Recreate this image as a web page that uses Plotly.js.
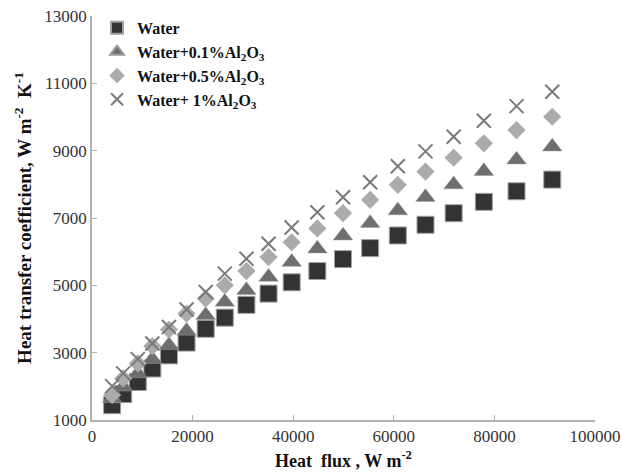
<!DOCTYPE html>
<html>
<head>
<meta charset="utf-8">
<script src="https://cdn.plot.ly/plotly-3.0.1.min.js"></script>
<style>html,body{margin:0;padding:0;background:#fff;}#chart{width:622px;height:474px;}</style>
</head>
<body>
<div id="chart"></div>
<script>
const heatFlux = [4000, 6200, 9100, 12000, 15300, 18800, 22600, 26400, 30700, 35100, 39700, 44800, 49900, 55300, 60800, 66300, 71900, 77900, 84400, 91500];
const water = [1440, 1770, 2130, 2530, 2920, 3300, 3710, 4040, 4420, 4754, 5090, 5424, 5779, 6105, 6481, 6799, 7142, 7480, 7794, 8141];
const water01 = [1643, 1987, 2384, 2807, 3222, 3646, 4111, 4505, 4852, 5246, 5690, 6088, 6473, 6846, 7222, 7617, 7993, 8387, 8733, 9119];
const water05 = [1741, 2235, 2680, 3193, 3687, 4161, 4606, 5000, 5424, 5839, 6280, 6689, 7142, 7540, 7984, 8378, 8793, 9218, 9613, 10008];
const water1 = [2007, 2384, 2807, 3273, 3764, 4280, 4800, 5347, 5791, 6236, 6720, 7172, 7617, 8061, 8535, 8979, 9415, 9889, 10324, 10748];
const seriesNames = ["Water", "Water+0.1%Al<sub>2</sub>O<sub>3</sub>", "Water+0.5%Al<sub>2</sub>O<sub>3</sub>", "Water+ 1%Al<sub>2</sub>O<sub>3</sub>"];

const serif = "Liberation Serif";
const traces = [
  {x: heatFlux, y: water, name: seriesNames[0], mode: "markers", type: "scatter",
   marker: {symbol: "square", size: 17, color: "#333333", line: {color: "#a0a0a0", width: 1}}},
  {x: heatFlux, y: water01, name: seriesNames[1], mode: "markers", type: "scatter",
   marker: {symbol: "triangle-up", size: 17, color: "#6e6e6e", line: {color: "#9a9a9a", width: 0.5}}},
  {x: heatFlux, y: water05, name: seriesNames[2], mode: "markers", type: "scatter",
   marker: {symbol: "diamond", size: 14, color: "#ababab", line: {width: 0}}},
  {x: heatFlux, y: water1, name: seriesNames[3], mode: "markers", type: "scatter",
   marker: {symbol: "x-thin-open", size: 14, color: "#7a7a7a", line: {color: "#7a7a7a", width: 2}}}
];

const layout = {
  width: 622, height: 474,
  margin: {l: 92, r: 27, t: 15, b: 54},
  paper_bgcolor: "#fff", plot_bgcolor: "#fff",
  showlegend: true,
  legend: {x: 0.01, y: 1.01, xanchor: "left", yanchor: "top", bgcolor: "rgba(0,0,0,0)",
    font: {family: serif, size: 16, color: "#111", weight: "bold"}, itemsizing: "constant", tracegroupgap: 0},
  xaxis: {
    range: [0, 100000], tick0: 0, dtick: 20000, showgrid: false, zeroline: false,
    showline: true, linecolor: "#b0b0b0", linewidth: 1.5, ticks: "inside", ticklen: 5, tickcolor: "#b0b0b0",
    tickfont: {family: serif, size: 17, color: "#333"}, tickformat: "d",
    title: {text: "Heat  flux , W m<sup>-2</sup>  ", font: {family: serif, size: 18, color: "#111", weight: "bold"}, standoff: 9}
  },
  yaxis: {
    range: [1000, 13000], tick0: 1000, dtick: 2000, showgrid: false, zeroline: false,
    showline: true, linecolor: "#b0b0b0", linewidth: 1.5, ticks: "inside", ticklen: 5, tickcolor: "#b0b0b0",
    tickfont: {family: serif, size: 17, color: "#333"}, tickformat: "d",
    title: {text: "Heat transfer coefficient, W m<sup>-2</sup>  K<sup>-1</sup>", font: {family: serif, size: 19, color: "#111", weight: "bold"}, standoff: 8}
  }
};
Plotly.newPlot("chart", traces, layout, {displayModeBar: false});
</script>
</body>
</html>
